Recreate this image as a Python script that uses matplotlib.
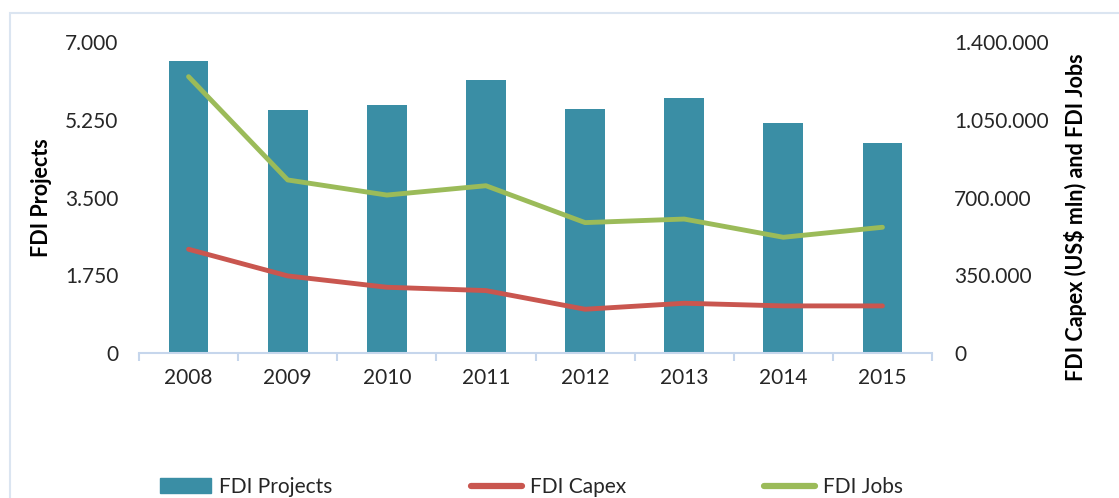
import matplotlib
matplotlib.use("Agg")
import matplotlib.pyplot as plt
from matplotlib.patches import Rectangle, Patch
from matplotlib.lines import Line2D
from matplotlib.ticker import FuncFormatter, FixedLocator
import numpy as np

# data
years = ["2008", "2009", "2010", "2011", "2012", "2013", "2014", "2015"]
fdi_projects = [6580, 5480, 5575, 6145, 5485, 5740, 5170, 4735]
fdi_capex = [467000, 347000, 296000, 281000, 197000, 224000, 212000, 212000]
fdi_jobs = [1244000, 779000, 711000, 753000, 587000, 603000, 521000, 566000]

bar_col = "#3a8ea5"
capex_col = "#c9564f"
jobs_col = "#9bbb59"
axis_col = "#c6d6ec"
text_col = "#262626"

plt.rcParams["font.family"] = ["Lato", "DejaVu Sans"]

W, H = 1119, 498
fig = plt.figure(figsize=(W / 100, H / 100), dpi=100)

# light frame around the chart
fig.patches.append(Rectangle((10 / W, -0.1), 1.2, 1 - 13 / H + 0.1, transform=fig.transFigure,
                             fill=False, edgecolor="#dbe5f1", linewidth=1.5))

ax = fig.add_axes([139 / W, 1 - 353 / H, (932 - 139) / W, (353 - 42) / H])
x = np.arange(len(years))
ax.bar(x, fdi_projects, width=0.4, color=bar_col, zorder=2)
ax.set_xlim(-0.5, len(years) - 0.5)
ax.set_ylim(0, 7000)
ax.set_yticks([0, 1750, 3500, 5250, 7000])
ax.yaxis.set_major_formatter(FuncFormatter(lambda v, p: f"{int(v):,}".replace(",", ".")))
ax.set_xticks(x)
ax.set_xticklabels(years)
ax.xaxis.set_minor_locator(FixedLocator(np.arange(-0.5, len(years), 1.0)))
ax.tick_params(axis="x", which="major", length=0, pad=11, labelsize=15, labelcolor=text_col)
ax.tick_params(axis="x", which="minor", length=6, width=1.5, color=axis_col)
ax.tick_params(axis="y", length=0, pad=15, labelsize=15, labelcolor=text_col)
for s in ["top", "right", "left"]:
    ax.spines[s].set_visible(False)
ax.spines["bottom"].set_color(axis_col)
ax.spines["bottom"].set_linewidth(1.5)
ax.set_ylabel("FDI Projects", fontsize=15.5, fontweight="bold", color="black", labelpad=9)

ax2 = ax.twinx()
ax2.plot(x, fdi_capex, color=capex_col, linewidth=3.5, solid_capstyle="round")
ax2.plot(x, fdi_jobs, color=jobs_col, linewidth=3.5, solid_capstyle="round")
ax2.set_ylim(0, 1400000)
ax2.set_yticks([0, 350000, 700000, 1050000, 1400000])
ax2.yaxis.set_major_formatter(FuncFormatter(lambda v, p: f"{int(v):,}".replace(",", ".")))
ax2.tick_params(axis="y", length=0, pad=16, labelsize=15, labelcolor=text_col)
for s in ax2.spines.values():
    s.set_visible(False)
ax2.set_ylabel("FDI Capex (US$ mln) and FDI Jobs", fontsize=15.5, fontweight="bold",
               color="black")
ax2.yaxis.set_label_coords(1.167, 0.437)

handles = [Patch(facecolor=bar_col, edgecolor=bar_col),
           Line2D([], [], color=capex_col, linewidth=4.5, solid_capstyle="round"),
           Line2D([], [], color=jobs_col, linewidth=4.5, solid_capstyle="round")]
fig.legend(handles, ["FDI Projects", "FDI Capex", "FDI Jobs"], loc="center left",
           bbox_to_anchor=(141 / W, 1 - 487 / H), ncol=3, frameon=False, fontsize=15,
           handlelength=2.45, handletextpad=0.38, columnspacing=6.65, labelcolor=text_col)

fig.savefig("out.png", dpi=100)
